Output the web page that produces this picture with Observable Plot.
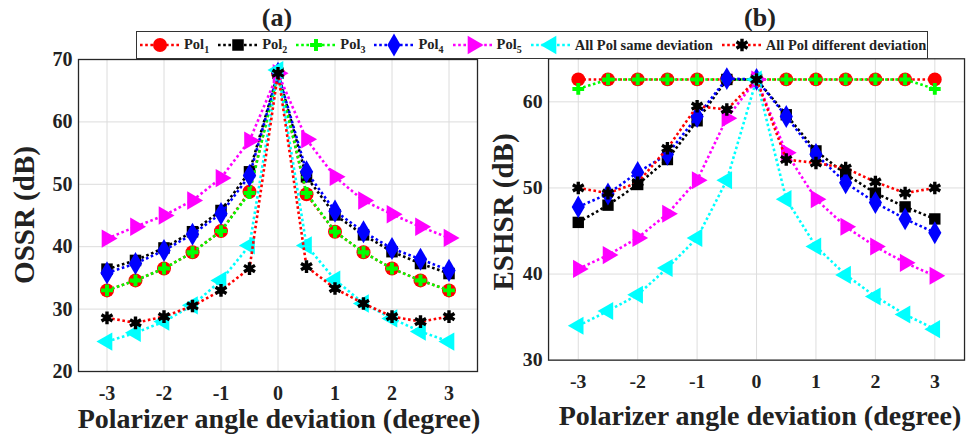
<!DOCTYPE html>
<html>
<head>
<meta charset="utf-8">
<script src="https://cdn.jsdelivr.net/npm/d3@7"></script>
<script src="https://cdn.jsdelivr.net/npm/@observablehq/plot@0.6"></script>
<style>
  html, body { margin: 0; padding: 0; background: #fff; }
  #root { position: relative; width: 967px; height: 440px; overflow: hidden; background: #fff;
          font-family: 'Liberation Serif', 'Times New Roman', serif; font-weight: bold; color: #222; }
  .abs { position: absolute; }
  .title { font-size: 26px; transform: translate(-50%, -50%); white-space: nowrap; }
  .xlabel { font-size: 28px; transform: translate(-50%, -50%); white-space: nowrap; }
  .ylabel { font-size: 29px; transform: translate(-50%, -50%) rotate(-90deg); white-space: nowrap; }
  #legend { left: 136px; top: 31px; width: 792px; height: 28px; box-sizing: border-box;
            border: 1px solid #333; background: #fff; z-index: 5;
            display: flex; align-items: center; padding-left: 1px; font-size: 14.5px; }
  .item { display: flex; align-items: center; margin-right: 7px; white-space: nowrap; }
  .item sub { font-size: 10px; vertical-align: -4px; }
  .item svg { margin-right: 2px; }
</style>
</head>
<body>
<div id="root">
  <div class="abs title" style="left:277px; top:18px">(a)</div>
  <div class="abs title" style="left:760px; top:18px">(b)</div>
  <div id="legend" class="abs"></div>
  <div id="pa" class="abs" style="left:0; top:0"></div>
  <div id="pb" class="abs" style="left:470px; top:0"></div>
  <div class="abs xlabel" style="left:279px; top:419px">Polarizer angle deviation (degree)</div>
  <div class="abs xlabel" style="left:760px; top:416px">Polarizer angle deviation (degree)</div>
  <div class="abs ylabel" style="left:24px; top:215px">OSSR (dB)</div>
  <div class="abs ylabel" style="left:503px; top:212px">ESHSR (dB)</div>
</div>
<script>
// ---- data ----
const xs = [-3, -2.5, -2, -1.5, -1, -0.5, 0, 0.5, 1, 1.5, 2, 2.5, 3];
const xTicks = [-3, -2, -1, 0, 1, 2, 3];
const yTicksA = [20, 30, 40, 50, 60, 70];
const yTicksB = [30, 40, 50, 60];

const seriesNames = ["Pol1", "Pol2", "Pol3", "Pol4", "Pol5", "All Pol same deviation", "All Pol different deviation"];

// Panel (a) OSSR (dB)
const a_pol1 = [33.0, 34.6, 36.5, 39.1, 42.5, 48.8, 67.8, 48.4, 42.4, 39.1, 36.5, 34.6, 33.0];
const a_pol2 = [36.4, 37.8, 39.8, 42.4, 45.8, 52.0, 67.8, 51.2, 45.1, 41.9, 39.2, 37.3, 35.7];
const a_pol3 = [33.0, 34.6, 36.5, 39.1, 42.5, 48.6, 67.8, 48.6, 42.4, 39.1, 36.5, 34.6, 33.0];
const a_pol4 = [35.8, 37.3, 39.4, 42.0, 45.3, 51.4, 67.8, 52.0, 45.7, 42.4, 39.7, 38.0, 36.2];
const a_pol5 = [41.3, 43.2, 45.0, 47.4, 51.0, 57.0, 67.8, 57.2, 51.2, 47.4, 45.2, 43.2, 41.4];
const a_same = [24.8, 26.2, 28.0, 30.6, 34.6, 40.2, 68.3, 40.2, 34.7, 30.9, 28.5, 26.4, 24.8];
const a_diff = [28.6, 27.8, 28.8, 30.5, 33.0, 36.5, 67.8, 36.8, 33.3, 30.9, 28.8, 28.0, 28.8];

// Panel (b) ESHSR (dB)
const b_pol1 = [62.6, 62.6, 62.6, 62.6, 62.6, 62.6, 62.6, 62.6, 62.6, 62.6, 62.6, 62.6, 62.6];
const b_pol2 = [46.0, 48.0, 50.4, 53.3, 57.8, 62.6, 62.6, 58.5, 54.3, 51.6, 49.4, 47.8, 46.4];
const b_pol3 = [61.5, 62.6, 62.6, 62.6, 62.6, 62.6, 62.6, 62.6, 62.6, 62.6, 62.6, 62.6, 61.5];
const b_pol4 = [47.8, 49.3, 51.8, 53.9, 58.3, 62.7, 62.6, 58.3, 53.9, 50.6, 48.3, 46.4, 44.8];
const b_pol5 = [40.6, 42.2, 44.2, 47.0, 50.9, 58.1, 62.6, 54.1, 48.7, 45.5, 43.2, 41.3, 39.8];
const b_same = [34.0, 35.7, 37.6, 40.7, 44.2, 50.9, 62.6, 48.7, 43.2, 39.9, 37.4, 35.3, 33.6];
const b_diff = [50.0, 49.4, 50.6, 54.6, 59.5, 59.1, 62.6, 53.3, 52.9, 52.3, 50.7, 49.4, 50.0];

// ---- styles ----
const styles = [
  {line: "#ff0000", symbol: "circle",   fill: "#ff0000", r: 7,   rotate: 0},
  {line: "#000000", symbol: "square",   fill: "#000000", r: 6.5, rotate: 0},
  {line: "#00ff00", symbol: "cross",    fill: "#00ff00", r: 5,   rotate: 0},
  {line: "#0000ff", symbol: "diamond",  fill: "#0000ff", r: 7,   rotate: 0},
  {line: "#ff00ff", symbol: "triangle", fill: "#ff00ff", r: 6.8, rotate: 90},
  {line: "#00ffff", symbol: "triangle", fill: "#00ffff", r: 6.8, rotate: -90},
  {line: "#ff0000", symbol: "asterisk", fill: "none",    r: 6,   rotate: 0}
];

const dash = "2.6,2.6";

function panel(valuesList, yDomain, yTicks, w, mL, mR, mB) {
  const marks = [
    Plot.gridX(xTicks, {stroke: "#dcdcdc", strokeOpacity: 1, strokeWidth: 1}),
    Plot.gridY(yTicks, {stroke: "#dcdcdc", strokeOpacity: 1, strokeWidth: 1})
  ];
  valuesList.forEach((vals, k) => {
    const st = styles[k];
    const data = xs.map((x, i) => ({x, y: vals[i]}));
    marks.push(Plot.line(data, {x: "x", y: "y", stroke: st.line, strokeWidth: 2.6, strokeDasharray: dash, strokeLinecap: "butt"}));
    if (st.symbol === "asterisk") {
      marks.push(Plot.dot(data, {x: "x", y: "y", symbol: "circle", r: 3.4, fill: "#000"}));
      marks.push(Plot.dot(data, {x: "x", y: "y", symbol: "asterisk", r: st.r, stroke: "#000", strokeWidth: 3.4, fill: "none"}));
    } else {
      marks.push(Plot.dot(data, {x: "x", y: "y", symbol: st.symbol, r: st.r, fill: st.fill, stroke: "none", rotate: st.rotate}));
    }
  });
  marks.push(Plot.frame({stroke: "#262626", strokeWidth: 1.3}));
  return Plot.plot({
    width: w, height: 440,
    marginLeft: mL, marginRight: mR, marginTop: 59, marginBottom: mB,
    x: {domain: [-3.5, 3.5], ticks: xTicks, tickFormat: d => String(d), tickSize: 0, tickPadding: 14, label: null},
    y: {domain: yDomain, ticks: yTicks, tickFormat: d => String(d), tickSize: 0, tickPadding: 6, label: null},
    style: {fontFamily: "'Liberation Serif', 'Times New Roman', serif", fontWeight: "bold", fontSize: "20px", color: "#222", background: "transparent", overflow: "visible"},
    marks
  });
}

document.getElementById("pa").appendChild(
  panel([a_pol1, a_pol2, a_pol3, a_pol4, a_pol5, a_same, a_diff], [20, 70], yTicksA, 480, 78, 3, 69));
document.getElementById("pb").appendChild(
  panel([b_pol1, b_pol2, b_pol3, b_pol4, b_pol5, b_same, b_diff], [30, 65], yTicksB, 503, 79, 3, 76));

// ---- legend ----
const legend = document.getElementById("legend");
const labelsHTML = ["Pol<sub>1</sub>", "Pol<sub>2</sub>", "Pol<sub>3</sub>", "Pol<sub>4</sub>", "Pol<sub>5</sub>",
                    "All Pol same deviation", "All Pol different deviation"];
const symMap = {circle: d3.symbolCircle, square: d3.symbolSquare, cross: d3.symbolCross, diamond: d3.symbolDiamond,
                triangle: d3.symbolTriangle, asterisk: d3.symbolAsterisk};
styles.forEach((st, k) => {
  const item = document.createElement("div");
  item.className = "item";
  const sw = 44, sh = 24;
  const svg = d3.create("svg").attr("width", sw).attr("height", sh);
  svg.append("line").attr("x1", 2).attr("x2", sw - 2).attr("y1", sh / 2).attr("y2", sh / 2)
    .attr("stroke", st.line).attr("stroke-width", 2.6).attr("stroke-dasharray", dash);
  const path = d3.symbol(symMap[st.symbol], Math.PI * st.r * st.r)();
  const g = svg.append("g").attr("transform", `translate(${sw / 2},${sh / 2}) rotate(${st.rotate})`);
  if (st.symbol === "asterisk") {
    g.append("circle").attr("r", 3.4).attr("fill", "#000");
    g.append("path").attr("d", path).attr("stroke", "#000").attr("stroke-width", 3.4).attr("fill", "none");
  } else {
    g.append("path").attr("d", path).attr("fill", st.fill);
  }
  item.appendChild(svg.node());
  const span = document.createElement("span");
  span.innerHTML = labelsHTML[k];
  item.appendChild(span);
  legend.appendChild(item);
});
</script>
</body>
</html>
